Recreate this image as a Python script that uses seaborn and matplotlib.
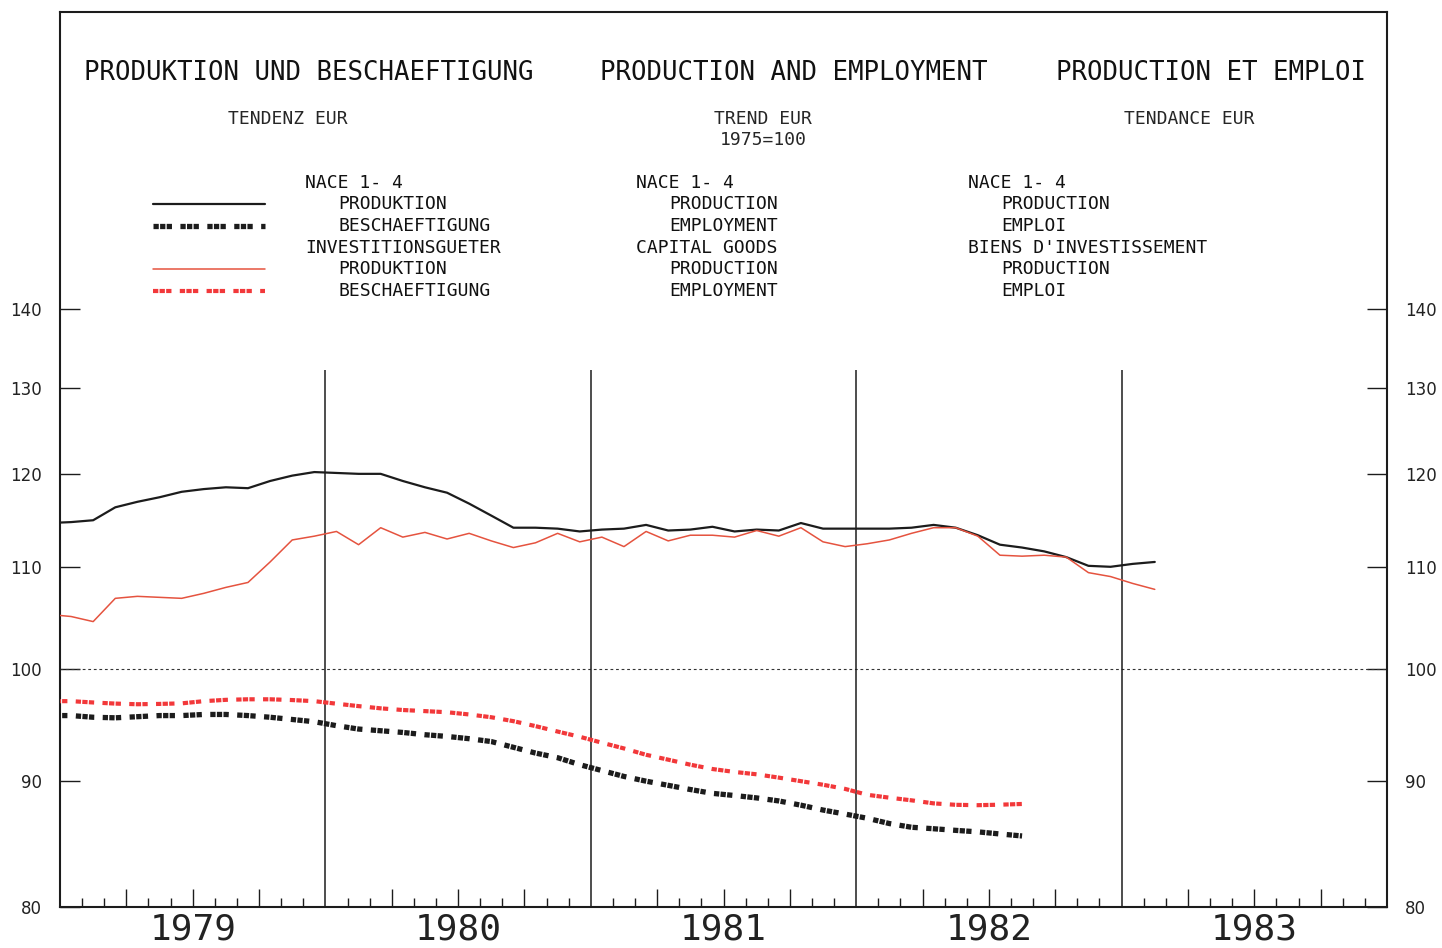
import numpy as np
import pandas as pd
import matplotlib
matplotlib.use("Agg")
import matplotlib.pyplot as plt
import matplotlib.transforms as mtransforms
from matplotlib.ticker import FixedLocator, NullLocator, FixedFormatter
from matplotlib.lines import Line2D
import seaborn as sns

# ---------------- data (monthly, starting Dec 1978) ----------------
first_month = "1978-12"
prod_total = [114.6,
              114.7, 114.9, 116.3, 116.9, 117.4, 118.0, 118.3, 118.5, 118.4, 119.2, 119.8, 120.2,
              120.1, 120.0, 120.0, 119.2, 118.5, 117.9, 116.7, 115.4, 114.1, 114.1, 114.0, 113.7,
              113.9, 114.0, 114.4, 113.8, 113.9, 114.2, 113.7, 113.9, 113.8, 114.6, 114.0, 114.0,
              114.0, 114.0, 114.1, 114.4, 114.1, 113.3, 112.3, 112.0, 111.6, 111.0, 110.1, 110.0,
              110.3, 110.5]
prod_capital = [105.2,
                105.0, 104.5, 106.8, 107.0, 106.9, 106.8, 107.3, 107.9, 108.4, 110.5, 112.8, 113.2,
                113.7, 112.3, 114.1, 113.1, 113.6, 112.9, 113.5, 112.7, 112.0, 112.5, 113.5, 112.6,
                113.1, 112.1, 113.7, 112.7, 113.3, 113.3, 113.1, 113.8, 113.2, 114.1, 112.6, 112.1,
                112.4, 112.8, 113.5, 114.1, 114.1, 113.2, 111.2, 111.1, 111.2, 111.0, 109.4, 109.0,
                108.3, 107.7]
emp_total = [95.7,
             95.7, 95.55, 95.5, 95.6, 95.7, 95.7, 95.8, 95.8, 95.7, 95.55, 95.35, 95.15,
             94.8, 94.5, 94.35, 94.2, 94.0, 93.85, 93.65, 93.4, 92.9, 92.4, 92.0, 91.4,
             90.9, 90.4, 90.0, 89.65, 89.3, 88.98, 88.8, 88.6, 88.35, 88.0, 87.6, 87.27,
             86.93, 86.5, 86.2, 86.08, 85.95, 85.83, 85.66, 85.5]
emp_capital = [97.0,
               97.0, 96.88, 96.78, 96.72, 96.75, 96.8, 97.0, 97.12, 97.17, 97.17, 97.1, 97.0,
               96.77, 96.55, 96.35, 96.2, 96.1, 96.0, 95.8, 95.55, 95.2, 94.76, 94.28, 93.82,
               93.3, 92.8, 92.25, 91.83, 91.4, 91.03, 90.78, 90.58, 90.3, 90.0, 89.7, 89.35,
               88.86, 88.62, 88.4, 88.15, 88.03, 88.0, 88.04, 88.1]

years = [1979, 1980, 1981, 1982, 1983]
year_lines = [1980, 1981, 1982, 1983]
ytick_vals = [80, 90, 100, 110, 120, 130, 140]
ytick_labels = ["80", "90", "100", "110", "120", "130", "140"]


def decimal_years(n):
    start = pd.Period(first_month, freq="M")
    per = [start + i for i in range(n)]
    return [p.year + (p.month - 0.5) / 12.0 for p in per]


def frame(values, name):
    return pd.DataFrame({"year": decimal_years(len(values)), "value": values, "series": name})


df_pt = frame(prod_total, "prod_total")
df_pc = frame(prod_capital, "prod_capital")
df_et = frame(emp_total, "emp_total")
df_ec = frame(emp_capital, "emp_capital")

# ---------------- styling ----------------
sns.set_style("white")
plt.rcParams["font.family"] = ["DejaVu Sans"]
MONO = "DejaVu Sans Mono"
INK = "#1c1c1c"
RED_LINE = "#e5533f"
RED_DOT = "#f2383a"

W, H = 1442, 948
fig = plt.figure(figsize=(W / 100, H / 100), dpi=100)
fig.patch.set_facecolor("white")
ax = fig.add_axes([60 / W, 1 - 907 / H, 1327 / W, 895 / H])
ax.set_facecolor("white")

dash_black = (0, (1.0, 0.25, 1.0, 0.25, 1.0, 1.6))
dash_red = (0, (1.27, 0.31, 1.27, 0.31, 1.27, 2.0))

sns.lineplot(data=df_pt, x="year", y="value", estimator=None, sort=False,
             color=INK, linewidth=1.6, ax=ax, zorder=4)
sns.lineplot(data=df_pc, x="year", y="value", estimator=None, sort=False,
             color=RED_LINE, linewidth=1.1, ax=ax, zorder=5)
sns.lineplot(data=df_et, x="year", y="value", estimator=None, sort=False,
             color=INK, linewidth=3.8, linestyle=dash_black, ax=ax, zorder=4)
sns.lineplot(data=df_ec, x="year", y="value", estimator=None, sort=False,
             color=RED_DOT, linewidth=3.0, linestyle=dash_red, ax=ax, zorder=4)

ax.set_yscale("log")
ax.set_ylim(80, 184.9)
ax.set_xlim(years[0], years[-1] + 1)
ax.set_xlabel("")
ax.set_ylabel("")

# reference lines
ax.axhline(100, color="#333333", linewidth=0.8, linestyle=(0, (2.5, 2.5)), zorder=2)
ax.vlines(year_lines, 80, 132.3, color=INK, linewidth=1.1, zorder=3)

# spines
for s in ax.spines.values():
    s.set_visible(True)
    s.set_color(INK)
    s.set_linewidth(1.5)

# x ticks: quarterly (long) and monthly (short), inward
quarters = [y + q / 4 for y in years for q in range(1, 4)]
months = [y + m / 12 for y in years for m in range(1, 12) if m % 3 != 0]
ax.xaxis.set_major_locator(FixedLocator(quarters))
ax.xaxis.set_minor_locator(FixedLocator(months))
ax.tick_params(axis="x", which="major", direction="in", length=13, width=1.0,
               color=INK, labelbottom=False, bottom=True, top=False)
ax.tick_params(axis="x", which="minor", direction="in", length=6.5, width=1.0,
               color=INK, bottom=True, top=False)

# y ticks on both sides
ax.yaxis.set_major_locator(FixedLocator(ytick_vals))
ax.yaxis.set_minor_locator(NullLocator())
ax.yaxis.set_major_formatter(FixedFormatter(ytick_labels))
ax.tick_params(axis="y", which="major", direction="in", length=14.4, width=1.0,
               color=INK, left=True, right=True, labelleft=True, labelright=True,
               labelsize=12, pad=13, labelcolor="#222222")

# year labels
trans = mtransforms.blended_transform_factory(ax.transData, ax.transAxes)
for yr in years:
    ax.text(yr + 0.5, -(940 - 907) / 895, str(yr), transform=trans, ha="center",
            va="baseline", fontsize=26, family=MONO, color="#222222", clip_on=False)


def fx(x):
    return x / W


def fy(y):
    return 1 - y / H


# titles
fig.text(fx(84), fy(73), "PRODUKTION UND BESCHAEFTIGUNG", family=MONO, fontsize=18.5,
         ha="left", va="center", color="#111111")
fig.text(fx(600), fy(73), "PRODUCTION AND EMPLOYMENT", family=MONO, fontsize=18.5,
         ha="left", va="center", color="#111111")
fig.text(fx(1056), fy(73), "PRODUCTION ET EMPLOI", family=MONO, fontsize=18.5,
         ha="left", va="center", color="#111111")

fig.text(fx(228), fy(119), "TENDENZ EUR", family=MONO, fontsize=13, ha="left", va="center")
fig.text(fx(714), fy(119), "TREND EUR", family=MONO, fontsize=13, ha="left", va="center")
fig.text(fx(720), fy(140), "1975=100", family=MONO, fontsize=13, ha="left", va="center")
fig.text(fx(1124), fy(119), "TENDANCE EUR", family=MONO, fontsize=13, ha="left", va="center")

# legend text columns
rows_y = [183, 204, 226, 248, 269, 291]
cols = [
    (305, ["NACE 1- 4", "PRODUKTION", "BESCHAEFTIGUNG", "INVESTITIONSGUETER", "PRODUKTION", "BESCHAEFTIGUNG"]),
    (636, ["NACE 1- 4", "PRODUCTION", "EMPLOYMENT", "CAPITAL GOODS", "PRODUCTION", "EMPLOYMENT"]),
    (968, ["NACE 1- 4", "PRODUCTION", "EMPLOI", "BIENS D'INVESTISSEMENT", "PRODUCTION", "EMPLOI"]),
]
indent = [0, 1, 1, 0, 1, 1]
for x0, labels in cols:
    for lab, yy, ind in zip(labels, rows_y, indent):
        fig.text(fx(x0 + 33 * ind), fy(yy), lab, family=MONO, fontsize=13,
                 ha="left", va="center", color="#111111")

# legend keys
kx = [(153 - 60) / 1327, (265 - 60) / 1327]
def ky(y):
    return (907 - y) / 895

ax.add_line(Line2D(kx, [ky(204)] * 2, color=INK, linewidth=1.6, transform=ax.transAxes))
ax.add_line(Line2D(kx, [ky(226)] * 2, color=INK, linewidth=3.8, linestyle=dash_black,
                   transform=ax.transAxes))
ax.add_line(Line2D(kx, [ky(269)] * 2, color=RED_LINE, linewidth=1.1, transform=ax.transAxes))
ax.add_line(Line2D(kx, [ky(291)] * 2, color=RED_DOT, linewidth=3.0, linestyle=dash_red,
                   transform=ax.transAxes))

fig.savefig("out.png", dpi=100, facecolor="white")
